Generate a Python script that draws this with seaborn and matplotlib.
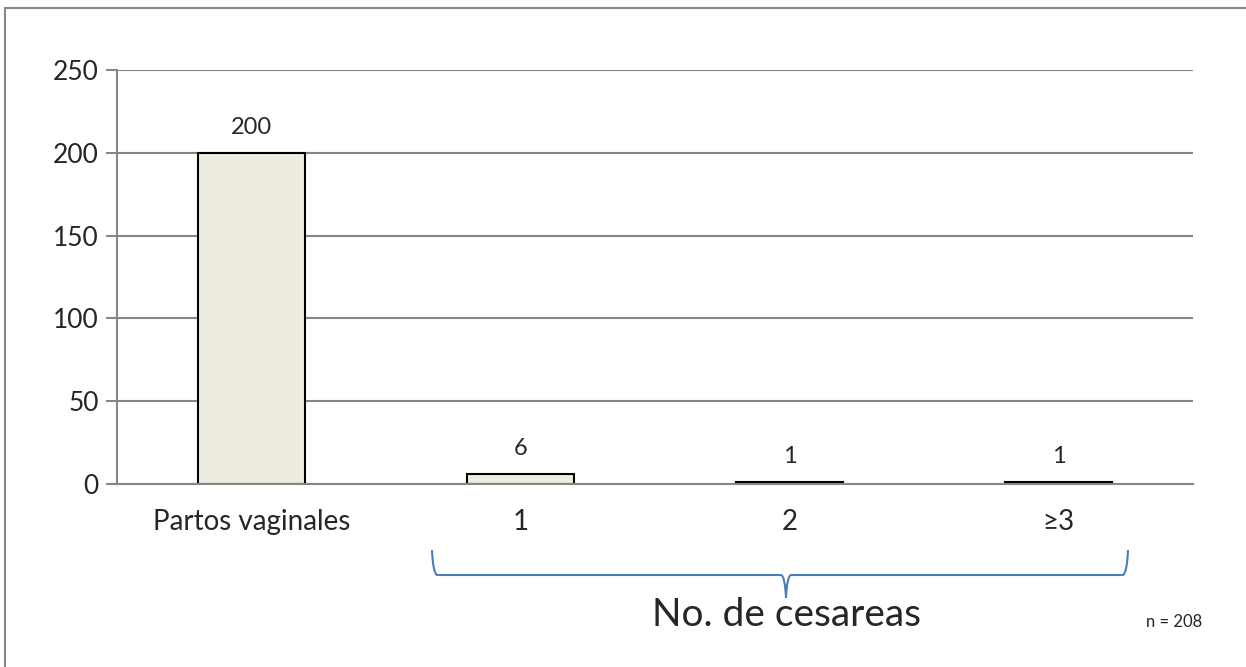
import numpy as np
import pandas as pd
import matplotlib
matplotlib.use('Agg')
import matplotlib.pyplot as plt
from matplotlib.path import Path
from matplotlib.patches import PathPatch
import seaborn as sns

# datos
categorias = ['Partos vaginales', '1', '2', '\u22653']
valores = [200, 6, 1, 1]
y_ticks = [0, 50, 100, 150, 200, 250]

df = pd.DataFrame({'cat': categorias, 'n': valores})

sns.set_theme(style='white')
plt.rcParams['font.family'] = ['Lato', 'DejaVu Sans']

W, H = 1246, 667
fig = plt.figure(figsize=(W / 100, H / 100), dpi=100)
ax = fig.add_axes([117 / W, 1 - 484 / H, (1193 - 117) / W, (484 - 70) / H])

sns.barplot(data=df, x='cat', y='n', ax=ax, color='#EEEBE0', width=0.4,
            edgecolor='black', linewidth=1.5, saturation=1)

ax.set_ylim(0, 250)
ax.set_xlim(-0.5, 3.5)
ax.set_yticks(y_ticks)
ax.set_yticklabels([str(v) for v in y_ticks], fontsize=19)
ax.set_xticks(range(len(categorias)))
ax.set_xticklabels(categorias, fontsize=20)
ax.set_xticks(np.arange(-0.5, 4, 1), minor=True)
ax.tick_params(axis='x', which='major', length=0, pad=18)
ax.tick_params(axis='x', which='minor', length=8, width=1.5, color='#868686', direction='out')
ax.tick_params(axis='y', length=8, width=1.5, color='#868686', direction='out', left=True, pad=5)
ax.set_xlabel('')
ax.set_ylabel('')
ax.yaxis.grid(True, color='#868686', linewidth=1.5)
ax.set_axisbelow(True)
for s in ['top', 'right']:
    ax.spines[s].set_visible(False)
for s in ['left', 'bottom']:
    ax.spines[s].set_color('#868686')
    ax.spines[s].set_linewidth(1.5)

# etiquetas de valores
for i, v in enumerate(valores):
    ax.annotate(str(v), (i, v), xytext=(0, 11), textcoords='offset points',
                ha='center', va='bottom', fontsize=17)

# marco exterior (solo arriba e izquierda visibles)
fig.add_artist(plt.Line2D([5 / W, 1], [1 - 8 / H, 1 - 8 / H], color='#868686', lw=1.5))
fig.add_artist(plt.Line2D([5 / W, 5 / W], [1 - 8 / H, 0], color='#868686', lw=1.5))

# llave
def px(x, y):
    return (x / W, 1 - y / H)

x0, x1, xm = 432, 1128, 786
yt, yh, yb = 550, 575, 598
verts = [px(x0, yt), px(x0 + 1, yh - 2), px(x0 + 5, yh), px(xm - 5, yh),
         px(xm - 1, yh + 1), px(xm, yb),
         px(xm, yb), px(xm + 1, yh + 1), px(xm + 5, yh), px(x1 - 5, yh),
         px(x1 - 1, yh - 2), px(x1, yt)]
codes = [Path.MOVETO, Path.CURVE3, Path.CURVE3, Path.LINETO,
         Path.CURVE3, Path.CURVE3,
         Path.MOVETO, Path.CURVE3, Path.CURVE3, Path.LINETO,
         Path.CURVE3, Path.CURVE3]
fig.add_artist(PathPatch(Path(verts, codes), transform=fig.transFigure,
                         fill=False, edgecolor='#4A7EBB', lw=1.5))

fig.text(*px(xm, 615), 'No. de cesareas', ha='center', va='center', fontsize=28)
fig.text(*px(1174, 622), 'n = 208', ha='center', va='center', fontsize=12)

fig.savefig('out.png', dpi=100)
